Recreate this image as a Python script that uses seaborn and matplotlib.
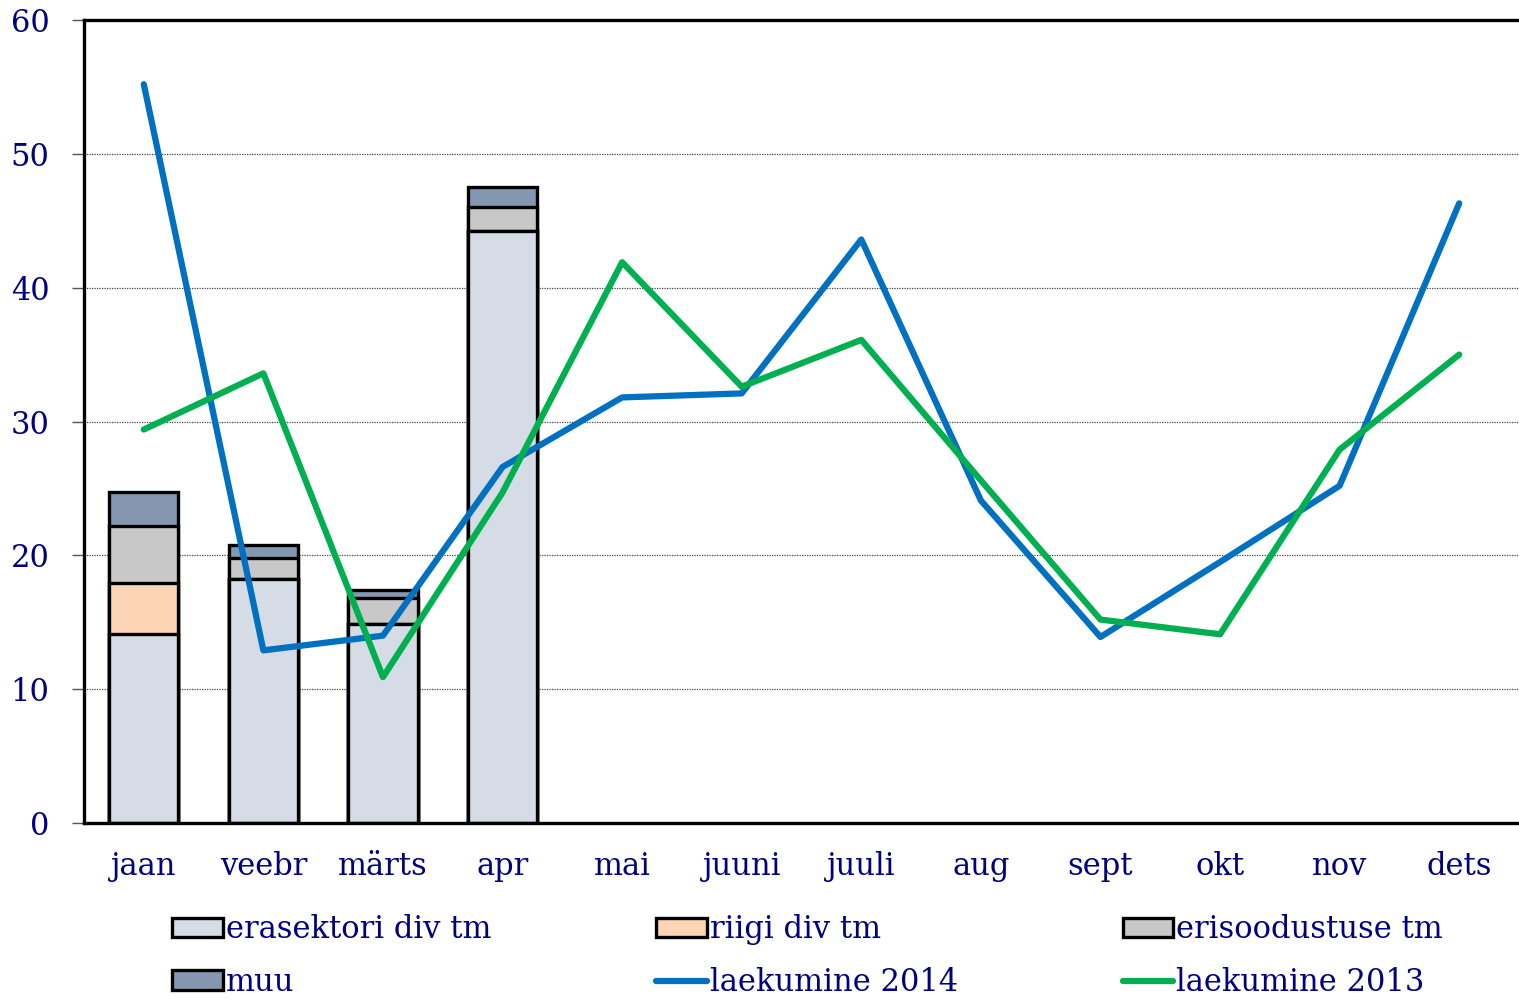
import numpy as np
import pandas as pd
import matplotlib.pyplot as plt
import seaborn as sns
from matplotlib.patches import Patch
from matplotlib.lines import Line2D

# --- data ---
months = ["jaan", "veebr", "märts", "apr", "mai", "juuni",
          "juuli", "aug", "sept", "okt", "nov", "dets"]
bar_months = ["jaan", "veebr", "märts", "apr"]
erasektori = [14.1, 18.2, 14.9, 44.2]
riigi = [3.8, 0.0, 0.0, 0.0]
erisoodustuse = [4.3, 1.6, 1.9, 1.8]
muu = [2.5, 1.0, 0.6, 1.5]
laek_2014 = [55.2, 12.9, 14.0, 26.6, 31.8, 32.1, 43.6, 24.1, 13.9, 19.5, 25.2, 46.3]
laek_2013 = [29.4, 33.6, 10.9, 24.7, 41.9, 32.6, 36.1, 25.6, 15.2, 14.1, 27.9, 35.0]

series_names = ["erasektori div tm", "riigi div tm", "erisoodustuse tm", "muu"]
colors = ["#D6DCE5", "#FBD5B5", "#C8C8C8", "#8497B0"]
navy = "#000080"

sns.set_style("white")
plt.rcParams["font.family"] = ["DejaVu Serif"]

fig = plt.figure(figsize=(15.19, 10.02), dpi=100)
ax = fig.add_axes([84 / 1519, 1 - 823 / 1002, 1 - 84 / 1519, (823 - 20) / 1002])

# stacked bars: draw cumulative totals from the top down
stack = np.array([erasektori, riigi, erisoodustuse, muu])
cum = np.cumsum(stack, axis=0)
for i in range(3, -1, -1):
    df = pd.DataFrame({"month": bar_months, "value": cum[i]})
    sns.barplot(data=df, x="month", y="value", order=months, color=colors[i],
                width=0.58, edgecolor="black", linewidth=2.4, saturation=1,
                ax=ax, zorder=2)

x = np.arange(len(months))
sns.lineplot(x=x, y=laek_2014, color="#0070C0", linewidth=4.5, ax=ax, zorder=3)
sns.lineplot(x=x, y=laek_2013, color="#00B050", linewidth=4.5, ax=ax, zorder=3)

ax.set_xlim(-0.5, 11.5)
ax.set_ylim(0, 60)
ax.set_yticks(range(0, 61, 10))
ax.set_xticks(x)
ax.set_xticklabels(months)
ax.set_xticks([-0.5, 1.5, 3.5, 5.5, 7.5, 9.5], minor=True)
ax.set_xlabel("")
ax.set_ylabel("")
ax.grid(axis="y", color="#444444", linestyle=(0, (1, 1)), linewidth=0.9, zorder=0)
ax.set_axisbelow(True)

ax.tick_params(axis="x", which="major", length=0, pad=20, labelsize=22, labelcolor=navy)
ax.tick_params(axis="x", which="minor", length=9, width=1, color="#555555", direction="out")
ax.tick_params(axis="y", length=9, width=1, color="#555555", direction="out",
               left=True, pad=16, labelsize=22, labelcolor=navy)

for side in ["left", "bottom", "top"]:
    ax.spines[side].set_color("black")
    ax.spines[side].set_linewidth(2.4)
ax.spines["right"].set_visible(False)

handles = [
    Patch(facecolor=colors[0], edgecolor="black", linewidth=2.4),
    Patch(facecolor=colors[3], edgecolor="black", linewidth=2.4),
    Patch(facecolor=colors[1], edgecolor="black", linewidth=2.4),
    Line2D([], [], color="#0070C0", linewidth=4.5),
    Patch(facecolor=colors[2], edgecolor="black", linewidth=2.4),
    Line2D([], [], color="#00B050", linewidth=4.5),
]
labels = [series_names[0], series_names[3], series_names[1], "laekumine 2014",
          series_names[2], "laekumine 2013"]
leg = fig.legend(handles, labels, ncol=3, loc="lower left",
                 bbox_to_anchor=(160 / 1519, -0.008), frameon=False, fontsize=22,
                 handlelength=1.65, handleheight=0.6, handletextpad=0.1,
                 columnspacing=5.4, labelspacing=0.7, borderaxespad=0.0)
for t in leg.get_texts():
    t.set_color(navy)

fig.savefig("out.png", dpi=100)
